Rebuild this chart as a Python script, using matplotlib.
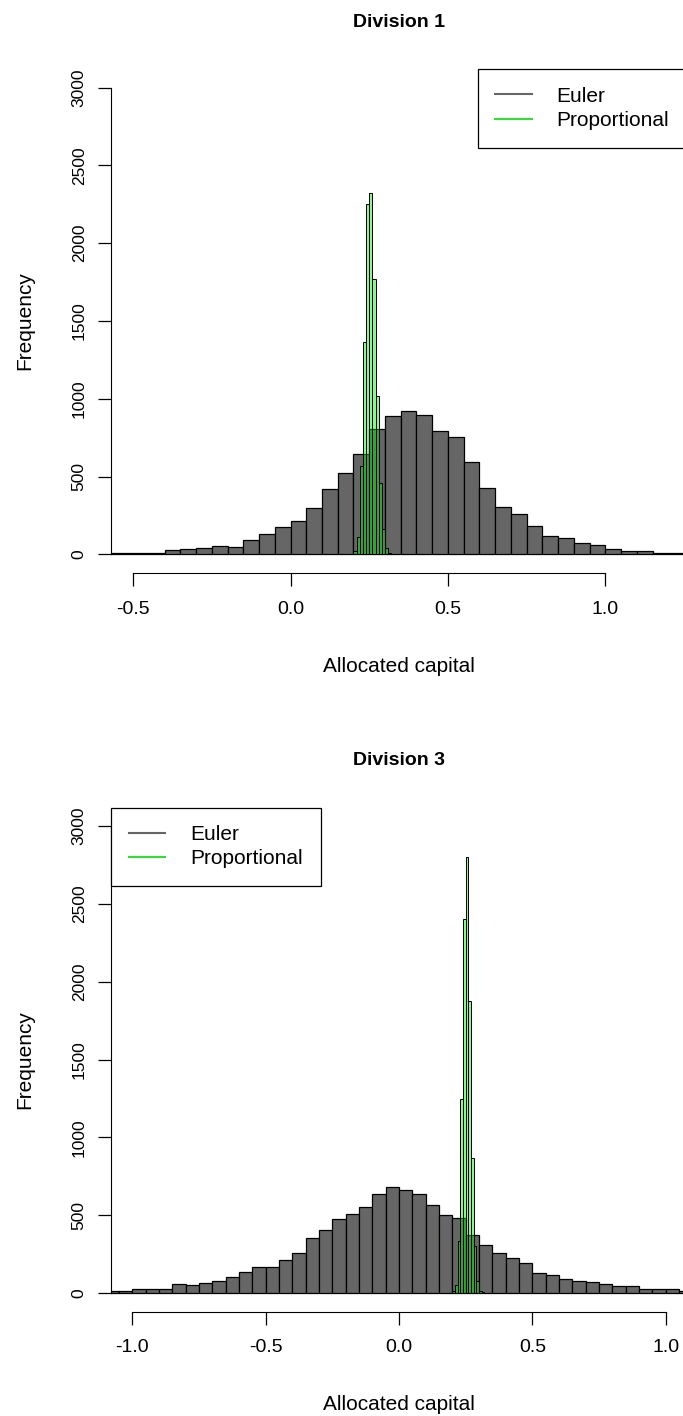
"""
Histograms of allocated capital per division: Euler vs proportional allocation.
"""

import numpy as np
import matplotlib.pyplot as plt

# ---- data (bin start, bin width, counts) ----
div1_euler_start = -0.60
div1_euler_width = 0.05
div1_euler_counts = [6, 6, 6, 7, 26, 33, 43, 52, 50, 93, 128, 174, 217, 296,
                     417, 522, 645, 808, 887, 921, 895, 793, 756, 591, 428,
                     304, 259, 180, 120, 102, 76, 59, 33, 22, 22, 11, 11, 6]

div1_prop_start = 0.20
div1_prop_width = 0.01
div1_prop_counts = [20, 109, 565, 1362, 2253, 2325, 1767, 1021, 456, 163, 43, 7]

div3_euler_start = -1.10
div3_euler_width = 0.05
div3_euler_counts = [15, 15, 26, 26, 26, 60, 52, 62, 77, 103, 131, 163, 163,
                     208, 258, 354, 406, 472, 506, 549, 635, 678, 661, 635,
                     567, 498, 481, 369, 309, 258, 223, 189, 129, 112, 86,
                     77, 69, 60, 43, 43, 24, 24, 24, 15]

div3_prop_start = 0.20
div3_prop_width = 0.01
div3_prop_counts = [9, 52, 333, 1249, 2401, 2805, 1878, 869, 300, 79, 9, 4]

titles = ["Division 1", "Division 3"]
xticks = [[-0.5, 0.0, 0.5, 1.0], [-1.0, -0.5, 0.0, 0.5, 1.0]]
yticks = [0, 500, 1000, 1500, 2000, 2500, 3000]

EULER_COL = "#666666"
PROP_COL = (0.0, 0.93, 0.0, 0.45)

plt.rcParams["font.family"] = ["Liberation Sans", "DejaVu Sans"]
plt.rcParams["font.size"] = 12.5

W, H = 683, 1416
fig = plt.figure(figsize=(W / 100, H / 100), dpi=100)


def edges(start, width, counts):
    return start + width * np.arange(len(counts) + 1)


def draw_panel(ax, euler, prop, title, ticks, xlim, legend_loc):
    e = edges(*euler)
    ax.bar(e[:-1], euler[2], width=np.diff(e), align="edge",
           color=EULER_COL, edgecolor="black", linewidth=0.9)
    p = edges(*prop)
    ax.bar(p[:-1], prop[2], width=np.diff(p), align="edge",
           color=PROP_COL, edgecolor="black", linewidth=0.7)

    ax.set_xlim(*xlim)
    ax.set_ylim(-120, 3120)
    for s in ["top", "right"]:
        ax.spines[s].set_visible(False)
    ax.spines["left"].set_bounds(0, 3000)
    ax.spines["bottom"].set_bounds(ticks[0], ticks[-1])
    ax.set_xticks(ticks)
    ax.set_xticklabels([f"{t:.1f}" for t in ticks], fontsize=14)
    ax.set_yticks(yticks)
    ax.set_yticklabels([str(t) for t in yticks], rotation=90, va="center")
    ax.tick_params(length=9.5, width=0.9)
    ax.tick_params(axis="x", pad=10.5)
    ax.tick_params(axis="y", pad=8)

    ax.set_title(title, fontweight="bold", pad=30.5, fontsize=14)
    ax.set_xlabel("Allocated capital", labelpad=28, fontsize=15)
    ax.set_ylabel("Frequency", labelpad=27, fontsize=15)

    handles = [plt.Line2D([], [], color=EULER_COL, lw=1.5),
               plt.Line2D([], [], color="#33dd33", lw=1.5)]
    leg = ax.legend(handles, ["Euler", "Proportional"], loc=legend_loc,
                    borderaxespad=0, fancybox=False, framealpha=1,
                    edgecolor="black", handlelength=1.75, handletextpad=1.2,
                    borderpad=0.85, labelspacing=0.25, fontsize=15)
    leg.get_frame().set_linewidth(0.9)


ax1 = fig.add_axes([111 / W, 1 - 573 / H, 576 / W, 504 / H])
draw_panel(ax1,
           (div1_euler_start, div1_euler_width, div1_euler_counts),
           (div1_prop_start, div1_prop_width, div1_prop_counts),
           titles[0], xticks[0], (-0.570, 1.259), "upper right")

ax2 = fig.add_axes([111 / W, 1 - 1311.5 / H, 576 / W, 504 / H])
draw_panel(ax2,
           (div3_euler_start, div3_euler_width, div3_euler_counts),
           (div3_prop_start, div3_prop_width, div3_prop_counts),
           titles[1], xticks[1], (-1.08, 1.08), "upper left")

fig.savefig("out.png", dpi=100)
